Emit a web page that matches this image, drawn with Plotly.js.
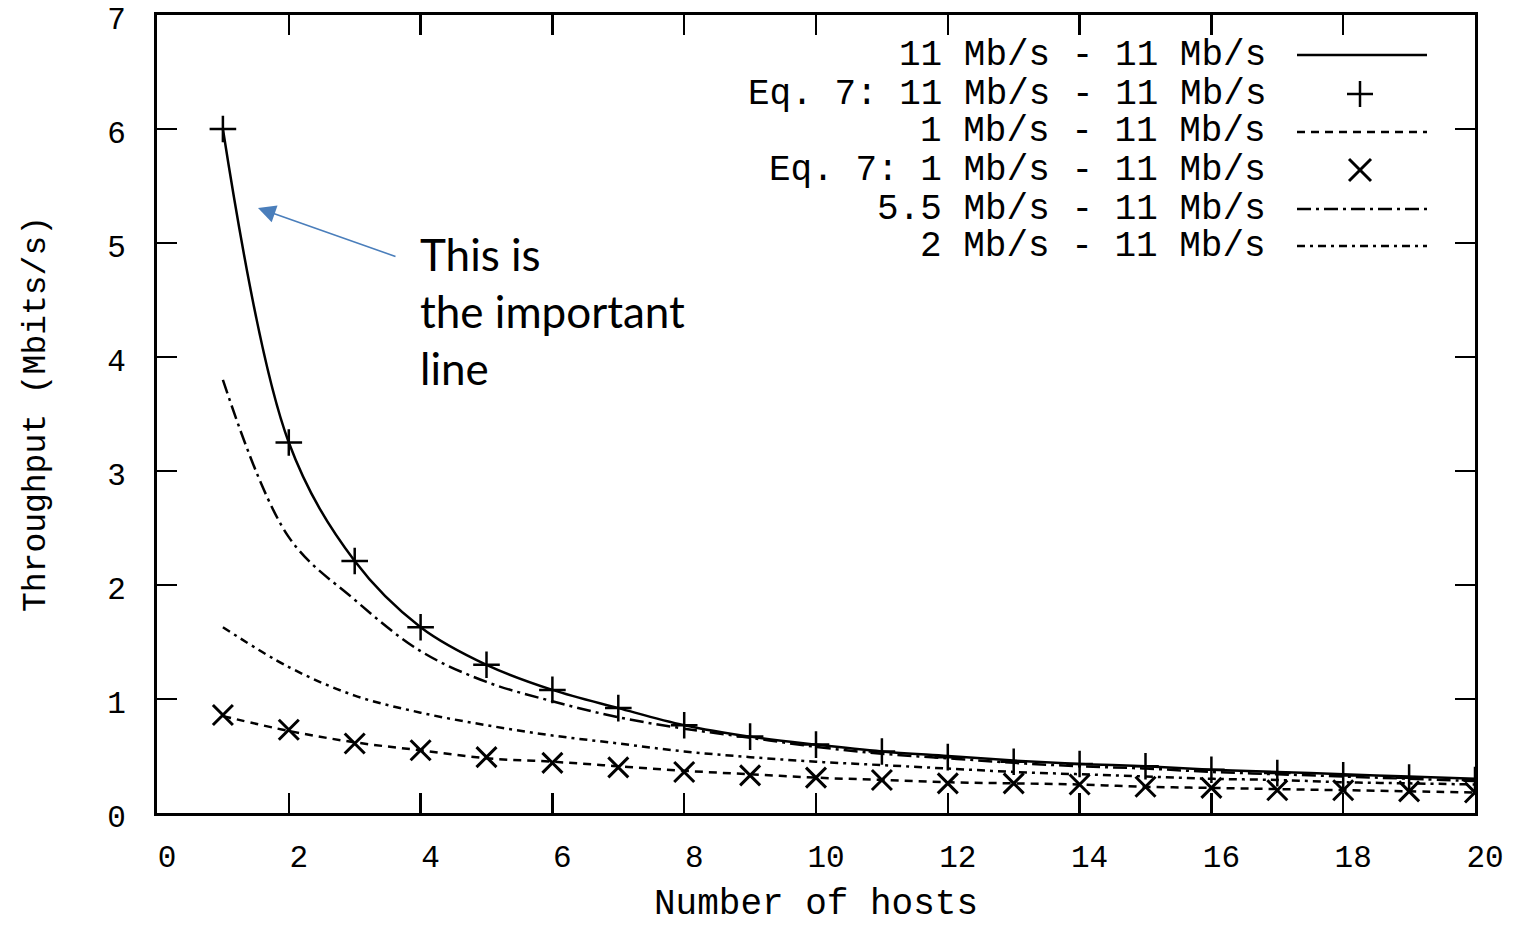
<!DOCTYPE html>
<html>
<head>
<meta charset="utf-8">
<script src="https://cdn.plot.ly/plotly-3.0.1.min.js"></script>
<style>html,body{margin:0;padding:0;background:#fff;}#chart{width:1514px;height:925px;}</style>
</head>
<body>
<div id="chart"></div>
<script>
// ---- data ----
const hosts = [1,2,3,4,5,6,7,8,9,10,11,12,13,14,15,16,17,18,19,20];
const thr_11_11 = [6.00,3.25,2.21,1.63,1.30,1.08,0.92,0.77,0.67,0.60,0.54,0.50,0.46,0.43,0.41,0.38,0.36,0.34,0.32,0.30];
const eq7_11_11 = [6.00,3.25,2.21,1.63,1.30,1.08,0.92,0.77,0.67,0.60,0.54,0.49,0.45,0.43,0.41,0.38,0.35,0.33,0.31,0.29];
const thr_1_11  = [0.85,0.72,0.62,0.55,0.48,0.45,0.41,0.37,0.34,0.31,0.29,0.27,0.26,0.25,0.23,0.22,0.21,0.20,0.19,0.18];
const eq7_1_11  = [0.86,0.73,0.61,0.55,0.49,0.44,0.40,0.36,0.33,0.31,0.29,0.26,0.26,0.25,0.23,0.22,0.20,0.20,0.19,0.18];
const thr_55_11 = [3.80,2.42,1.87,1.42,1.15,0.98,0.84,0.74,0.66,0.58,0.52,0.48,0.44,0.41,0.39,0.36,0.34,0.32,0.30,0.28];
const thr_2_11  = [1.63,1.28,1.03,0.88,0.77,0.68,0.61,0.54,0.49,0.45,0.42,0.39,0.36,0.34,0.32,0.30,0.29,0.27,0.26,0.25];
const seriesNames = ["11 Mb/s - 11 Mb/s","Eq. 7: 11 Mb/s - 11 Mb/s","1 Mb/s - 11 Mb/s","Eq. 7: 1 Mb/s - 11 Mb/s","5.5 Mb/s - 11 Mb/s","2 Mb/s - 11 Mb/s"];
const xTicks = [0,2,4,6,8,10,12,14,16,18,20];
const yTicks = [0,1,2,3,4,5,6,7];
const xTitle = "Number of hosts";
const yTitle = "Throughput (Mbits/s)";
const noteText = "This is<br>the important<br>line";

// ---- styles ----
const MONO = "Liberation Mono, DejaVu Sans Mono, monospace";
const dashes = {
  solid: "solid",
  short: "8px,6px",
  longdot: "14px,5px,3px,5px",
  dashdot: "8px,5px,3px,5px"
};

const traces = [
  {x: hosts, y: thr_11_11, name: seriesNames[0], mode: "lines",
   line: {color: "#000", width: 2.5, dash: dashes.solid, shape: "spline"}},
  {x: hosts, y: eq7_11_11, name: seriesNames[1], mode: "markers",
   marker: {symbol: "cross-thin-open", size: 19, color: "#000", line: {color: "#000", width: 2.5}}},
  {x: hosts, y: thr_1_11, name: seriesNames[2], mode: "lines",
   line: {color: "#000", width: 2.5, dash: dashes.short, shape: "spline"}},
  {x: hosts, y: eq7_1_11, name: seriesNames[3], mode: "markers",
   marker: {symbol: "x-thin-open", size: 20, color: "#000", line: {color: "#000", width: 3}}},
  {x: hosts, y: thr_55_11, name: seriesNames[4], mode: "lines",
   line: {color: "#000", width: 2.5, dash: dashes.longdot, shape: "spline"}},
  {x: hosts, y: thr_2_11, name: seriesNames[5], mode: "lines",
   line: {color: "#000", width: 2.5, dash: dashes.dashdot, shape: "spline"}}
];

// ---- gnuplot-style key (text right-aligned, sample on the right) ----
const W = 1514, H = 925, L = 157, R = 39, T = 15, B = 112;
const pw = W - L - R, ph = H - T - B;
const px = v => (v - L) / pw;
const py = v => (H - B - v) / ph;
const keyRows = [55, 94, 132, 170, 209, 246];
const keyTextRight = 1268, keySampleX0 = 1297, keySampleX1 = 1427, keySymX = 1360;

const annotations = [];
const shapes = [];
seriesNames.forEach((nm, i) => {
  annotations.push({xref: "paper", yref: "paper", x: px(keyTextRight), y: py(keyRows[i]),
    xanchor: "right", yanchor: "middle", text: nm, showarrow: false,
    font: {family: MONO, size: 36, color: "#000"}});
});
const lineKeys = [[0, dashes.solid], [2, dashes.short], [4, dashes.longdot], [5, dashes.dashdot]];
lineKeys.forEach(([i, d]) => {
  shapes.push({type: "line", xref: "paper", yref: "paper",
    x0: px(keySampleX0), x1: px(keySampleX1), y0: py(keyRows[i]), y1: py(keyRows[i]),
    line: {color: "#000", width: 2.5, dash: d}});
});
// + sample
const hp = 13;
shapes.push({type: "line", xref: "paper", yref: "paper", x0: px(keySymX - hp), x1: px(keySymX + hp),
  y0: py(keyRows[1]), y1: py(keyRows[1]), line: {color: "#000", width: 2.5}});
shapes.push({type: "line", xref: "paper", yref: "paper", x0: px(keySymX), x1: px(keySymX),
  y0: py(keyRows[1] - hp), y1: py(keyRows[1] + hp), line: {color: "#000", width: 2.5}});
// x sample
const hx = 11;
shapes.push({type: "line", xref: "paper", yref: "paper", x0: px(keySymX - hx), x1: px(keySymX + hx),
  y0: py(keyRows[3] - hx), y1: py(keyRows[3] + hx), line: {color: "#000", width: 3}});
shapes.push({type: "line", xref: "paper", yref: "paper", x0: px(keySymX - hx), x1: px(keySymX + hx),
  y0: py(keyRows[3] + hx), y1: py(keyRows[3] - hx), line: {color: "#000", width: 3}});

// callout text and arrow
annotations.push({xref: "paper", yref: "paper", x: px(418), y: py(226), xanchor: "left", yanchor: "top",
  align: "left", text: noteText, showarrow: false,
  font: {family: "Lato, Open Sans, sans-serif", size: 44, color: "#000"}});
annotations.push({xref: "paper", yref: "paper", x: px(258), y: py(208), text: "", showarrow: true,
  ax: 139, ay: 49, arrowhead: 2, arrowsize: 2.2, arrowwidth: 1.6, arrowcolor: "#4A7EBB", standoff: 0});

const axisCommon = {
  showgrid: false, zeroline: false, showline: true, linecolor: "#000", linewidth: 3,
  mirror: "ticks", ticks: "inside", ticklen: 20, tickwidth: 2.5, tickcolor: "#000",
  tickfont: {family: MONO, size: 31, color: "#000"}
};

const layout = {
  width: W, height: H,
  margin: {l: L, r: R, t: T, b: B, pad: 0},
  paper_bgcolor: "#fff", plot_bgcolor: "#fff",
  showlegend: false,
  xaxis: Object.assign({}, axisCommon, {
    range: [0, 20], tickmode: "array", tickvals: xTicks, ticktext: xTicks.map(String),
    ticklabelstandoff: 14, ticklabelshift: 10,
    title: {text: xTitle, font: {family: MONO, size: 36, color: "#000"}, standoff: 32}
  }),
  yaxis: Object.assign({}, axisCommon, {
    range: [0, 7], tickmode: "array", tickvals: yTicks, ticktext: yTicks.map(String),
    ticklabelstandoff: 22, ticklabelshift: 3,
    title: {text: yTitle, font: {family: MONO, size: 33, color: "#000"}, standoff: 52}
  }),
  annotations: annotations,
  shapes: shapes
};

Plotly.newPlot("chart", traces, layout, {displayModeBar: false, staticPlot: true});
</script>
</body>
</html>
